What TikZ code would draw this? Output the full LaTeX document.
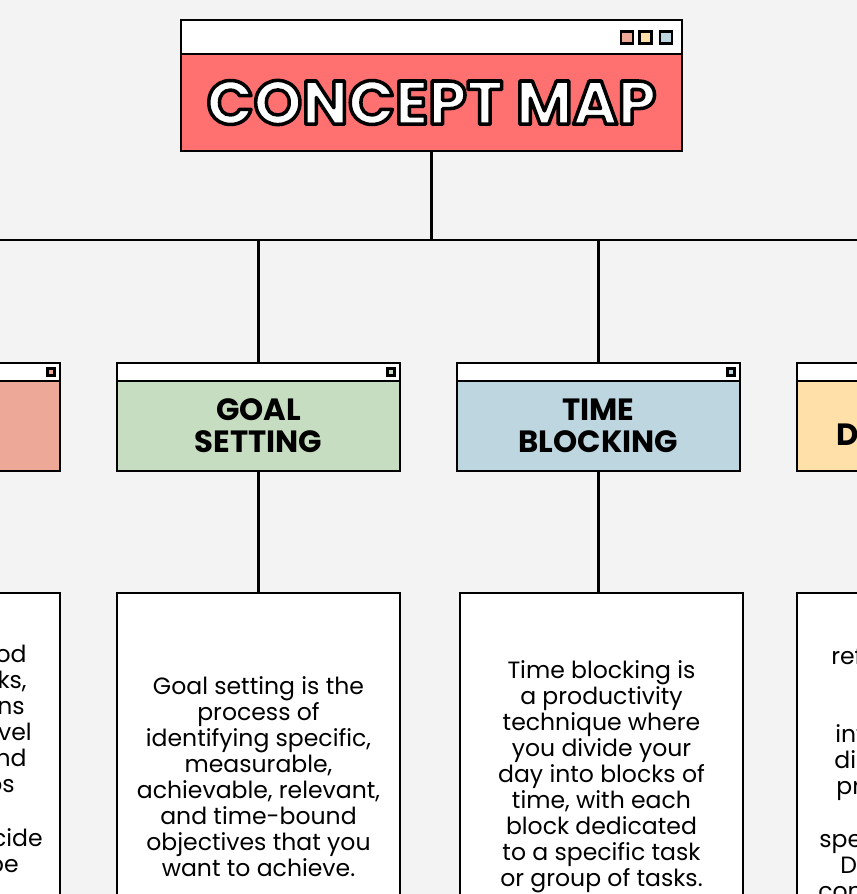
\documentclass[tikz,border=0pt]{standalone}
\usepackage{fontspec}
\setmainfont{Poppins}
\usetikzlibrary{positioning,calc}

\definecolor{paper}{HTML}{F3F3F3}
\definecolor{titlered}{HTML}{FF7171}
\definecolor{salmon}{HTML}{EEA898}
\definecolor{goalgreen}{HTML}{C7DDC1}
\definecolor{timeblue}{HTML}{BDD6E0}
\definecolor{sand}{HTML}{FFE0A8}

% outlined lettering: fill white, stroke black
\newcommand{\outlined}[1]{\special{pdf:literal 0 0 0 RG 2 w 1 j 2 Tr}#1\special{pdf:literal 0 Tr}}

\tikzset{
  winbar/.style={draw, line width=1.6pt, fill=white, outer sep=0pt, inner sep=0pt,
    minimum width=5.66cm, minimum height=0.36cm},
  topic/.style={draw, line width=1.6pt, outer sep=0pt, inner sep=0pt, align=center,
    minimum width=5.66cm, minimum height=1.8cm, font=\bfseries\fontsize{17.5}{18.2}\selectfont},
  note/.style={draw, line width=1.6pt, fill=white, outer sep=0pt, align=center,
    minimum width=5.66cm, minimum height=7.36cm, font=\fontsize{13.4}{14.8}\selectfont},
  knob/.style={draw, line width=1.2pt, inner sep=0pt, minimum size=0.24cm},
  frag/.style={inner sep=0pt, font=\fontsize{13.4}{14.8}\selectfont},
  titletext/.style={inner sep=0pt, text=white, font=\bfseries\fontsize{35}{40}\selectfont},
  link/.style={line width=1.4pt}
}

\begin{document}
\begin{tikzpicture}[x=0.02cm, y=-0.02cm]
      \useasboundingbox (0,0) rectangle (857,894);
      \fill[paper] (0,0) rectangle (857,894);
      \clip (0,0) rectangle (857,894);

      % title window
      \node[winbar, minimum width=10.02cm, minimum height=0.68cm] (titlebar) at (431.5,37) {};
      \node[draw, line width=1.6pt, fill=titlered, outer sep=0pt, minimum width=10.02cm, minimum height=1.94cm, below=0pt of titlebar] (title) {};
      \foreach \c/\x in {salmon/627, sand/645.5, timeblue/666}
        \node[knob, fill=\c] (dot\x) at (\x,37.5) {};
      \node[titletext] (titlelabel) at (title.center) {\outlined{CONCEPT MAP}};

      % topics
      \node[winbar] (leftbar) at (-81.5,372) {};
      \node[topic, fill=salmon, below=0pt of leftbar] (left) {};
      \node[winbar] (goalbar) at (258.5,372) {};
      \node[topic, fill=goalgreen, below=0pt of goalbar] (goal) {GOAL\\SETTING};
      \node[winbar] (timebar) at (598.5,372) {};
      \node[topic, fill=timeblue, below=0pt of timebar] (time) {TIME\\BLOCKING};
      \node[winbar] (rightbar) at (938.5,372) {};
      \node[topic, fill=sand, below=0pt of rightbar] (right) {};
      \node[frag, font=\bfseries\fontsize{17.5}{18.2}\selectfont, anchor=mid west] (rightlabel) at (836,441) {D};

      \node[knob, minimum size=0.14cm, fill=salmon] (leftknob) at ($(leftbar.east)+(-9,0)$) {};
      \node[knob, minimum size=0.14cm, fill=goalgreen] (goalknob) at ($(goalbar.east)+(-9,0)$) {};
      \node[knob, minimum size=0.14cm, fill=timeblue] (timeknob) at ($(timebar.east)+(-9,0)$) {};

      % notes
      \node[note] (leftnote) at (-81.5,777) {};
      \node[note] (goalnote) at (258.5,777) {Goal setting is the\\process of\\identifying specific,\\measurable,\\achievable, relevant,\\and time-bound\\objectives that you\\want to achieve.};
      \node[note] (timenote) at (601.5,777) {Time blocking is\\a productivity\\technique where\\you divide your\\day into blocks of\\time, with each\\block dedicated\\to a specific task\\or group of tasks.};
      \node[note] (rightnote) at (938.5,777) {};

      % cut-off lines at the edges
      \foreach \y/\x/\t in {658/27/od, 684/27/{ks,}, 710/25/ns, 736/32/vel, 762/27/nd, 788/15/os, 842/43/cide, 868/19/be}
        \node[frag, anchor=mid east] (lf\y) at (\x,\y) {\t};
      \foreach \y/\x/\t in {660/831/ref, 738/835/int, 764/834/dis, 790/836/pr, 843/819/spe, 869/840/D, 895/818/con}
        \node[frag, anchor=mid west] (rf\y) at (\x,\y) {\t};

      % connectors
      \coordinate (hub) at (431.5,240);
      \draw[link] (title.south) -- (hub);
      \draw[link] (leftbar.north) |- (hub) -| (rightbar.north);
      \draw[link] (goalbar.north) -- (goalbar.north |- hub);
      \draw[link] (timebar.north) -- (timebar.north |- hub);
      \draw[link] (left.south) -- (leftnote.north);
      \draw[link] (goal.south) -- (goalnote.north);
      \draw[link] (time.south) -- (time.south |- timenote.north);
      \draw[link] (right.south) -- (rightnote.north);
    \end{tikzpicture}
\end{document}
